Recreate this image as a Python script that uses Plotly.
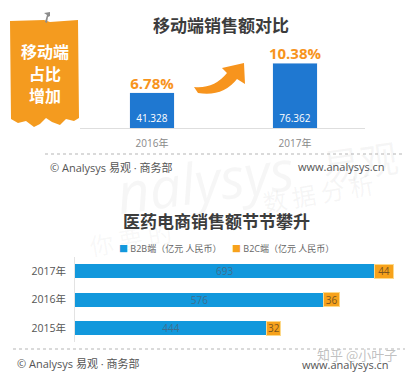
import plotly.graph_objects as go

# ---------------- data ----------------
top_years = ["2016年", "2017年"]
mobile_sales = [41.328, 76.362]
mobile_share_labels = ["6.78%", "10.38%"]

years = ["2015年", "2016年", "2017年"]
b2b = [444, 576, 693]
b2c = [32, 36, 44]

W, H = 410, 375
def X(px): return px / W
def Y(py): return 1 - py / H

FONT = "Open Sans, Noto Sans CJK SC, sans-serif"
CJK = "Noto Sans CJK SC, sans-serif"
BLUE_TOP = "#1f78d1"
BLUE = "#1298dc"
ORANGE = "#f7a21b"
ARROW = "#f7941d"

fig = go.Figure()

# top chart bars
fig.add_trace(go.Bar(
    x=top_years, y=mobile_sales, width=0.308,
    marker=dict(color=BLUE_TOP),
    text=[f"{v:.3f}" for v in mobile_sales], textposition="inside",
    insidetextanchor="start", textangle=0,
    insidetextfont=dict(color="white", size=10, family=FONT),
    xaxis="x", yaxis="y", showlegend=False, hoverinfo="skip",
))
fig.add_trace(go.Scatter(
    x=top_years, y=mobile_sales, mode="text", text=mobile_share_labels,
    textposition="top center",
    textfont=dict(color=ARROW, size=15, family=FONT, weight="bold"),
    xaxis="x", yaxis="y", showlegend=False, cliponaxis=False, hoverinfo="skip",
))

# bottom chart bars
fig.add_trace(go.Bar(
    y=years, x=b2b, orientation="h", width=0.49, name="B2B端（亿元 人民币）",
    marker=dict(color=BLUE, line=dict(width=0)),
    text=[str(v) for v in b2b], textposition="inside", insidetextanchor="middle",
    textangle=0,
    insidetextfont=dict(color="#3d6f90", size=10, family=FONT),
    xaxis="x2", yaxis="y2", showlegend=False, hoverinfo="skip",
))
fig.add_trace(go.Bar(
    y=years, x=b2c, orientation="h", width=0.49, name="B2C端（亿元 人民币）",
    marker=dict(color=ORANGE, line=dict(width=1, color="#fdd98a")),
    text=[str(v) for v in b2c], textposition="inside", insidetextanchor="middle",
    textangle=0,
    insidetextfont=dict(color="#7a5520", size=10, family=FONT),
    xaxis="x2", yaxis="y2", showlegend=False, hoverinfo="skip",
))

shapes = []
# dotted separators
shapes.append(dict(type="line", xref="paper", yref="paper", x0=X(45), x1=X(405),
                   y0=Y(154), y1=Y(154), line=dict(color="#b5b5b5", width=1, dash="dot")))
shapes.append(dict(type="line", xref="paper", yref="paper", x0=X(13), x1=X(405),
                   y0=Y(349), y1=Y(349), line=dict(color="#b5b5b5", width=1, dash="dot")))

def path(points, close=True):
    s = ""
    for cmd, pts in points:
        s += cmd + " ".join(f"{X(px):.5f},{Y(py):.5f}" for px, py in pts) + " "
    return s + ("Z" if close else "")

# orange badge with ragged bottom
badge = path([
    ("M", [(10, 21)]), ("L", [(44, 20)]), ("L", [(50, 22)]), ("L", [(78, 20)]),
    ("L", [(79, 118)]), ("L", [(74, 121)]), ("L", [(66, 119)]), ("L", [(60, 125)]),
    ("L", [(52, 122)]), ("L", [(46, 118)]), ("L", [(40, 124)]), ("L", [(34, 127)]),
    ("L", [(26, 121)]), ("L", [(18, 123)]), ("L", [(11, 119)]),
])
shapes.append(dict(type="path", xref="paper", yref="paper", path=badge,
                   fillcolor="#f49b1f", line=dict(width=0), layer="above"))
# pin
pin = path([("M", [(45, 22)]), ("L", [(47, 15)]), ("L", [(44, 13)]), ("L", [(50, 12)]),
            ("L", [(50, 16)]), ("L", [(48, 17)]), ("L", [(47, 23)])])
shapes.append(dict(type="path", xref="paper", yref="paper", path=pin,
                   fillcolor="#8c8c8c", line=dict(width=0), layer="above"))

# curved arrow
arrow = path([
    ("M", [(194, 87)]), ("Q", [(214, 89), (227, 73)]), ("L", [(222, 68)]),
    ("L", [(244, 63)]), ("L", [(245, 84)]), ("L", [(237, 79)]),
    ("Q", [(223, 97), (198, 93)]),
])
shapes.append(dict(type="path", xref="paper", yref="paper", path=arrow,
                   fillcolor=ARROW, line=dict(width=0), layer="above"))

ann = []
def txt(x, y, s, size=11, color="#555", bold=False, anchor="center", family=FONT, angle=0, opacity=1):
    ann.append(dict(x=X(x), y=Y(y), xref="paper", yref="paper", text=s, showarrow=False,
                    xanchor=anchor, yanchor="middle", textangle=angle, opacity=opacity,
                    font=dict(size=size, color=color, family=family,
                              weight="bold" if bold else "normal")))

# faint background watermark
txt(205, 180, "<i>nalysys</i>", size=56, color="rgba(150,150,150,0.09)", angle=-8)
txt(360, 160, "易观", size=38, color="rgba(150,150,150,0.09)", angle=-8, family=CJK)
txt(318, 192, "数 据 分 析", size=24, color="rgba(150,150,150,0.09)", angle=-10, family=CJK)
txt(130, 238, "你 要 的", size=24, color="rgba(150,150,150,0.07)", angle=-10, family=CJK)

txt(221, 25, "移动端销售额对比", size=17, color="#3c3c3c", bold=True, family=CJK)
txt(45, 51, "移动端", size=16, color="white", bold=True, family=CJK)
txt(45, 73, "占比", size=16, color="white", bold=True, family=CJK)
txt(45, 95, "增加", size=16, color="white", bold=True, family=CJK)
txt(48, 167, "© Analysys 易观 · 商务部", size=11, color="#555", anchor="left")
txt(387, 166, "www.analysys.cn", size=11, color="#555", anchor="right")

txt(216, 220, "医药电商销售额节节攀升", size=17, color="#3c3c3c", bold=True, family=CJK)
txt(117, 248, f"<span style='color:{BLUE}'>■</span> B2B端（亿元 人民币）", size=9, color="#666", anchor="left")
txt(230, 248, f"<span style='color:{ORANGE}'>■</span> B2C端（亿元 人民币）", size=9, color="#666", anchor="left")

txt(15, 363, "© Analysys 易观 · 商务部", size=11, color="#555", anchor="left")
txt(391, 364, "www.analysys.cn", size=11, color="#555", anchor="right")
txt(357, 354, "知乎 @小叶子", size=13, color="rgba(140,140,140,0.55)", family=CJK)

fig.update_layout(
    width=W, height=H, margin=dict(l=0, r=0, t=0, b=0),
    paper_bgcolor="white", plot_bgcolor="rgba(0,0,0,0)",
    barmode="stack", showlegend=False,
    font=dict(family=FONT),
    shapes=shapes, annotations=ann,
    xaxis=dict(domain=[X(80), X(365)], anchor="y", type="category",
               range=[-0.5035, 1.4895], showline=True, linecolor="#dedede", linewidth=1,
               ticks="", showgrid=False, zeroline=False, ticklabelstandoff=6,
               tickfont=dict(size=10, color="#888", family=FONT), fixedrange=True),
    yaxis=dict(domain=[Y(128), Y(40)], anchor="x", range=[0, 103.4],
               visible=False, fixedrange=True),
    xaxis2=dict(domain=[X(75), X(400)], anchor="y2", range=[0, 752], visible=False,
                fixedrange=True),
    yaxis2=dict(domain=[Y(342.25), Y(257.25)], anchor="x2", type="category",
                categoryorder="array", categoryarray=years, range=[-0.5, 2.5],
                showline=True, linecolor="#e3e3e3", linewidth=1, ticks="",
                showgrid=False, zeroline=False, ticklabelstandoff=6,
                tickfont=dict(size=10.5, color="#555", family=FONT), fixedrange=True),
    uniformtext=dict(minsize=9, mode="show"),
)

fig.write_html("out.html")
